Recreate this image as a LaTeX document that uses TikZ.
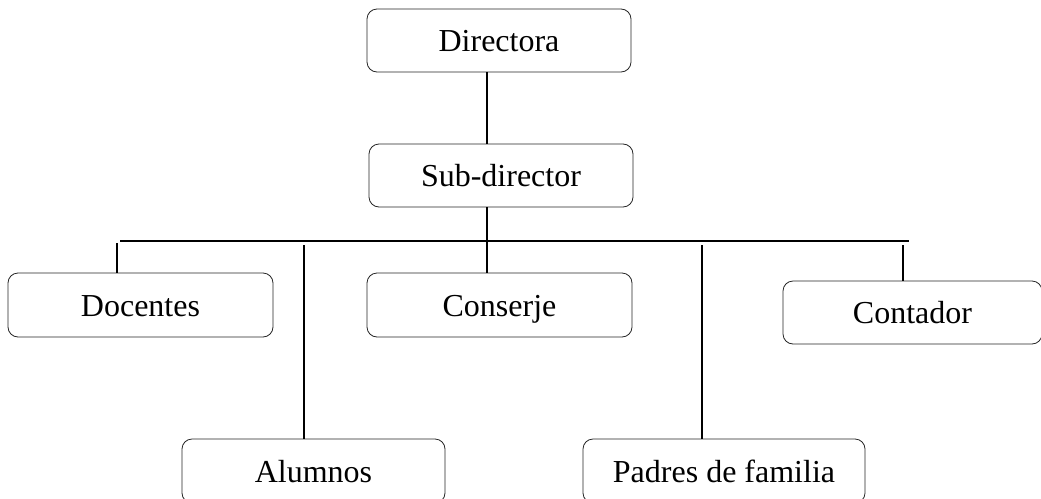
\documentclass[tikz,border=0pt]{standalone}
\usepackage{fontspec}
\setmainfont{Liberation Serif}
\begin{document}
\begin{tikzpicture}[x=1pt,y=-1pt,
  box/.style={draw=black!85, line width=0.8pt, rounded corners=10pt, inner sep=0pt,
    text height=28pt, text depth=6pt,
    font=\fontsize{32}{36}\selectfont, text=black},
  conn/.style={draw=black, line width=1.6pt}]
\useasboundingbox (0,0) rectangle (1041,498);
\node[box, minimum width=264pt, minimum height=63pt] (dir) at (499,40.5) {Directora};
\node[box, minimum width=264pt, minimum height=63pt] (sub) at (501,175.5) {Sub-director};
\node[box, minimum width=265pt, minimum height=64pt] (doc) at (140.5,305) {Docentes};
\node[box, minimum width=265pt, minimum height=64pt] (con) at (499.5,305) {Conserje};
\node[box, minimum width=259pt, minimum height=63pt] (cont) at (912.5,312.5) {Contador};
\node[box, minimum width=263pt, minimum height=64pt] (alu) at (313.5,471) {Alumnos};
\node[box, minimum width=282pt, minimum height=64pt] (pad) at (724,471) {Padres de familia};
\coordinate (xm) at (487,0);
\coordinate (busL) at (120,241);
\coordinate (busR) at (909,241);
\coordinate (bus) at (487,241);
\coordinate (tdoc) at (117,243);
\coordinate (talu) at (304,245);
\coordinate (tpad) at (702,245);
\coordinate (tcont) at (903,245);
\draw[conn] (dir.south -| xm) -- (sub.north -| xm);
\draw[conn] (sub.south -| xm) -- (bus);
\draw[conn] (busL) -- (busR);
\draw[conn] (tdoc) -- (doc.north -| tdoc);
\draw[conn] (talu) -- (alu.north -| talu);
\draw[conn] (bus) -- (con.north -| bus);
\draw[conn] (tpad) -- (pad.north -| tpad);
\draw[conn] (tcont) -- (cont.north -| tcont);
\end{tikzpicture}
\end{document}
